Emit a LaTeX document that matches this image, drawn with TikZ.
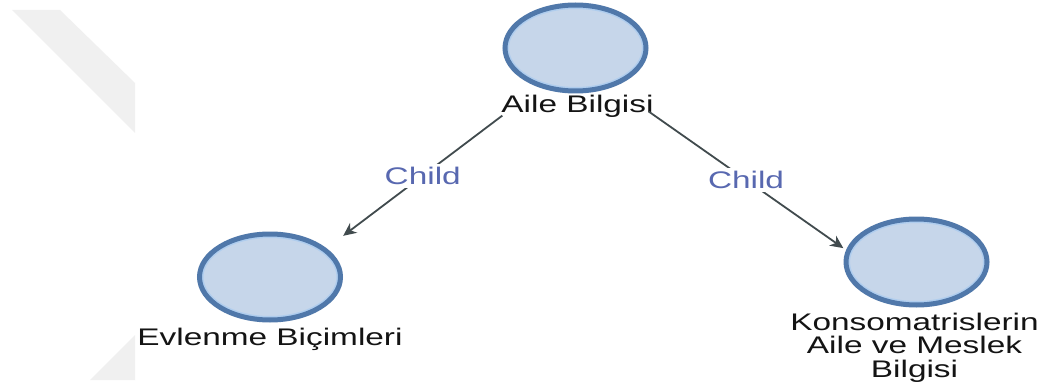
\documentclass[tikz,border=0pt]{standalone}
\usepackage{fontspec}
\setmainfont{Liberation Sans}
\usetikzlibrary{shapes.geometric,arrows.meta,fit}
\definecolor{ringdark}{RGB}{80,120,170}
\definecolor{ringlight}{RGB}{175,205,238}
\definecolor{bubfill}{RGB}{198,214,234}
\definecolor{edgegray}{RGB}{65,75,78}
\definecolor{childblue}{RGB}{88,104,176}
\definecolor{txtdark}{RGB}{20,20,20}
\definecolor{wmgray}{RGB}{240,240,240}
\newcommand\lblfont{\fontsize{24}{23.5}\selectfont}
\begin{document}
\begin{tikzpicture}[x=1pt,y=1pt,
  bub/.style={ellipse, minimum width=141pt, minimum height=86pt, inner sep=0pt,
    fill=bubfill, draw=ringdark, line width=5pt,
    path picture={\draw[ringlight, line width=8pt] (path picture bounding box.center) ellipse [x radius=70.5pt, y radius=43pt];}},
  lbl/.style={font=\lblfont, text=txtdark, inner sep=0pt, xscale=1.39, align=center},
  grp/.style={inner sep=0pt, draw=none},
  childarrow/.style={draw=edgegray, line width=1.8pt, -{Stealth[length=13pt,width=12pt,inset=4pt]}},
  childlbl/.style={font=\lblfont, text=childblue, fill=white, inner sep=3pt, xscale=1.39}]
\useasboundingbox (0,0) rectangle (1046,-385);
\fill[white] (0,0) rectangle (1046,-385);
% watermark fragments
\fill[wmgray] (12,-10) -- (60,-10) -- (135,-83) -- (135,-133) -- cycle;
\fill[wmgray] (90,-380) -- (135,-335) -- (135,-380) -- cycle;
% nodes
\node[bub] (c0) at (575.5,-48) {};
\node[lbl, anchor=base] (l0) at (577.5,-113) {Aile Bilgisi};
\node[bub] (c1) at (270,-277) {};
\node[lbl, anchor=base] (l1) at (270,-345) {Evlenme Biçimleri};
\node[bub] (c2) at (916.5,-262) {};
\node[lbl, anchor=north] (l2) at (914.5,-312.5) {Konsomatrislerin\\Aile ve Meslek\\Bilgisi};
% groups (circle width, down to label bottom)
\node[grp, fit={(c0) (c0.center |- l0.south)}] (g0) {};
\node[grp, fit={(c1) (c1.center |- l1.south)}] (g1) {};
\node[grp, fit={(c2) (c2.center |- l2.south)}] (g2) {};
% connectors
\draw[childarrow] (g0) -- (g1) node[childlbl, midway] (e1) {Child};
\draw[childarrow] (g0) -- (g2) node[childlbl, midway] (e2) {Child};
\end{tikzpicture}
\end{document}
